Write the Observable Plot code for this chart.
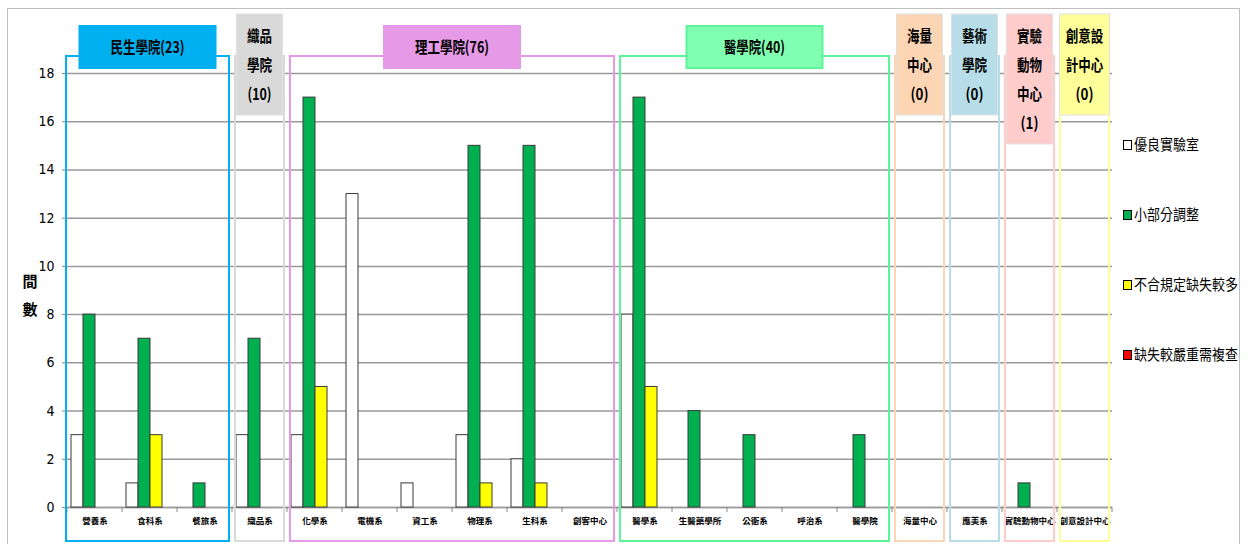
<!DOCTYPE html>
<html><head><meta charset="utf-8">
<script src="https://cdn.jsdelivr.net/npm/d3@7"></script>
<script src="https://cdn.jsdelivr.net/npm/@observablehq/plot@0.6"></script>
<style>
body{margin:0;background:#fff;overflow:hidden}
#chart{position:relative;width:1255px;height:544px}
svg{overflow:visible}
</style></head><body><div id="chart"></div>
<script>
const categories = ["營養系","食科系","餐旅系","織品系","化學系","電機系","資工系","物理系","生科系","創客中心","醫學系","生醫藥學所","公衛系","呼治系","醫學院","海量中心","應美系","實驗動物中心","創意設計中心"];
const series = ["優良實驗室","小部分調整","不合規定缺失較多","缺失較嚴重需複查"];
const seriesColors = ["#FFFFFF","#00B050","#FFFF00","#FF0000"];
const excellent  = [3,1,0,3,3,13,1,3,2,0,8,0,0,0,0,0,0,0,0];
const minorFix   = [8,7,1,7,17,0,0,15,15,0,17,4,3,0,3,0,0,1,0];
const manyIssues = [0,3,0,0,5,0,0,1,1,0,5,0,0,0,0,0,0,0,0];
const severe     = [0,0,0,0,0,0,0,0,0,0,0,0,0,0,0,0,0,0,0];
const yTicks = [0,2,4,6,8,10,12,14,16,18];
const yLabel = ["間","數"];
const groups = [
  {lines:["民生學院(23)"], first:"營養系", last:"餐旅系", fill:"#00B0F0", stroke:"#00B0F0"},
  {lines:["織品","學院","(10)"], first:"織品系", last:"織品系", fill:"#D9D9D9", stroke:"#D9D9D9"},
  {lines:["理工學院(76)"], first:"化學系", last:"創客中心", fill:"#E699E6", stroke:"#E699E6"},
  {lines:["醫學院(40)"], first:"醫學系", last:"醫學院", fill:"#80FFB0", stroke:"#5CF59A"},
  {lines:["海量","中心","(0)"], first:"海量中心", last:"海量中心", fill:"#FCD5B4", stroke:"#FCD5B4"},
  {lines:["藝術","學院","(0)"], first:"應美系", last:"應美系", fill:"#B7DEE8", stroke:"#B7DEE8"},
  {lines:["實驗","動物","中心","(1)"], first:"實驗動物中心", last:"實驗動物中心", fill:"#FFCCCC", stroke:"#FFCCCC"},
  {lines:["創意設","計中心","(0)"], first:"創意設計中心", last:"創意設計中心", fill:"#FFFF99", stroke:"#FFFF99"}
];

const seriesValues = [excellent, minorFix, manyIssues, severe];
const rows = [];
categories.forEach((c, i) => seriesValues.forEach((arr, j) => rows.push({category: c, series: series[j], value: arr[i]})));

const cjk = "'Noto Sans CJK TC', 'Noto Sans CJK SC', sans-serif";
const narrow = "'Liberation Sans Narrow', 'DejaVu Sans Condensed', 'Liberation Sans', sans-serif";
// condensed width estimate for a label (CJK vs other glyphs)
const condensed = (s, cw, ow) => [...s].reduce((a, ch) => a + (/[\u3000-\u9fff]/.test(ch) ? cw : ow), 0);

const plot = Plot.plot({
  width: 1255, height: 544,
  marginLeft: 62, marginRight: 138, marginTop: 73, marginBottom: 37,
  style: {fontFamily: cjk, background: "transparent", color: "#000"},
  fx: {domain: categories, padding: 0, label: null},
  x: {domain: series, axis: null, paddingInner: 0, paddingOuter: 0.25},
  y: {domain: [0, 18], label: null},
  color: {domain: series, range: seriesColors},
  marks: [
    Plot.gridY(yTicks, {stroke: "#9a9a9a", strokeOpacity: 1, strokeWidth: 1.5}),
    Plot.ruleY([0], {stroke: "#9a9a9a", strokeWidth: 1.5}),
    Plot.barY(rows, {fx: "category", x: "series", y: "value", fill: "series",
      stroke: d => d.value > 0 ? "#3a3a3a" : "none", strokeWidth: 1}),
    Plot.axisY(yTicks, {tickSize: 5, tickPadding: 8, fontSize: 14, fontFamily: narrow, stroke: "#888", label: null}),
    Plot.axisFx({anchor: "bottom", tickSize: 0, tickPadding: 10, fontSize: 8.5, fontWeight: "bold", label: null})
  ]
});

document.getElementById("chart").appendChild(plot);
const svg = d3.select(plot);
const fx = plot.scale("fx");
const bw = fx.bandwidth;
const y0 = 507;

// outer frame
svg.insert("rect", ":first-child").attr("x", 7.5).attr("y", 8.5).attr("width", 1232).attr("height", 560)
  .attr("fill", "#fff").attr("stroke", "#bfbfbf");

// x axis boundary ticks
const tk = svg.append("g").attr("stroke", "#888");
categories.forEach((c) => {
  const x = fx.apply(c);
  tk.append("line").attr("x1", x).attr("x2", x).attr("y1", y0).attr("y2", y0 + 5);
});
const lastX = fx.apply(categories[categories.length - 1]) + bw;
tk.append("line").attr("x1", lastX).attr("x2", lastX).attr("y1", y0).attr("y2", y0 + 5);

// group boxes and headers
const g = svg.append("g").attr("text-anchor", "middle");
groups.forEach((grp, gi) => {
  const x1 = fx.apply(grp.first) + (gi === 0 ? -1 : 3);
  const x2 = fx.apply(grp.last) + bw - 3;
  g.append("rect").attr("x", x1).attr("y", 56).attr("width", x2 - x1).attr("height", 541 - 56)
    .attr("fill", "none").attr("stroke", grp.stroke).attr("stroke-width", 2);
  const cx = (x1 + x2) / 2;
  if (grp.lines.length === 1) {
    const w = 136, top = 26, h = 42;
    g.append("rect").attr("x", cx - w / 2).attr("y", top).attr("width", w).attr("height", h)
      .attr("fill", grp.fill).attr("stroke", grp.stroke).attr("stroke-width", 2);
    g.append("text").attr("x", cx).attr("y", top + h / 2).attr("dy", "0.35em")
      .attr("font-size", 16).attr("font-weight", "bold").attr("font-family", cjk)
      .attr("textLength", condensed(grp.lines[0], 13, 5.5)).attr("lengthAdjust", "spacingAndGlyphs")
      .text(grp.lines[0]);
  } else {
    const w = grp.lines[0].length > 2 ? 50 : 46, top = 14, lh = 29, h = grp.lines.length * lh + 14;
    g.append("rect").attr("x", cx - w / 2).attr("y", top).attr("width", w).attr("height", h)
      .attr("fill", grp.fill).attr("stroke", "#e0e0e0").attr("stroke-width", 1);
    grp.lines.forEach((ln, li) => {
      g.append("text").attr("x", cx).attr("y", top + 22 + li * lh).attr("dy", "0.35em")
        .attr("font-size", 16).attr("font-weight", "bold").attr("font-family", cjk)
        .attr("textLength", condensed(ln, 12.5, 6)).attr("lengthAdjust", "spacingAndGlyphs")
        .text(ln);
    });
  }
});

// y label
yLabel.forEach((ch, i) => {
  svg.append("text").attr("x", 30).attr("y", 282 + i * 28).attr("dy", "0.35em").attr("text-anchor", "middle")
    .attr("font-size", 15).attr("font-weight", "bold").attr("font-family", cjk).text(ch);
});

// legend
const color = plot.scale("color");
const lg = svg.append("g").attr("text-anchor", "start");
series.forEach((s, i) => {
  const cy = 145 + i * 70;
  lg.append("rect").attr("x", 1123.5).attr("y", cy - 4.5).attr("width", 8).attr("height", 9)
    .attr("fill", color.apply(s)).attr("stroke", "#000");
  lg.append("text").attr("x", 1134).attr("y", cy).attr("dy", "0.35em").attr("font-size", 15)
    .attr("text-anchor", "start").attr("font-family", cjk)
    .attr("textLength", condensed(s, 13, 6)).attr("lengthAdjust", "spacingAndGlyphs").text(s);
});
</script></body></html>
